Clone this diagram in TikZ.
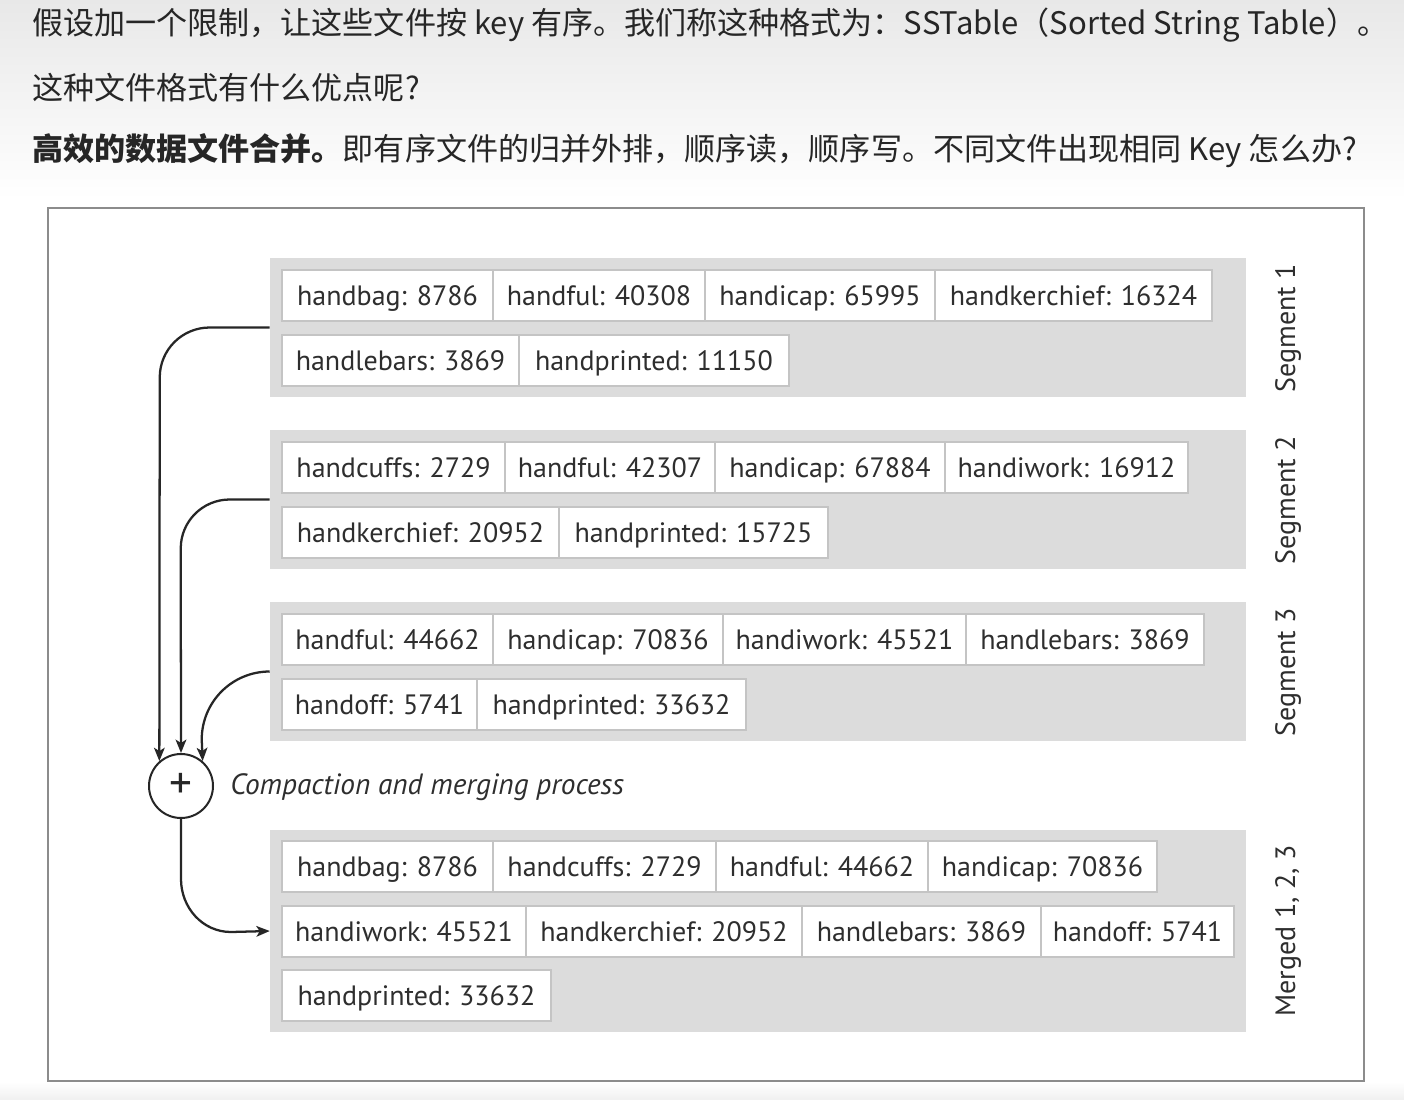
\documentclass[tikz,border=0pt]{standalone}
\usepackage{fontspec}
\setmainfont{PT Sans}
\newfontfamily\cjk{Noto Sans CJK SC}
\usetikzlibrary{arrows.meta}
\definecolor{blockgray}{HTML}{DCDCDC}
\definecolor{boxline}{HTML}{C4C4C4}
\definecolor{framec}{HTML}{8C8C8C}
\definecolor{txt}{HTML}{2E2E2E}
\newcommand\kvbox[5]{\node[kvb, minimum width={(#3-#2)*0.75pt}] (#1) at ({(#2+#3)/2},{#4+25.5}) {#5};}
\begin{document}
\begin{tikzpicture}[x=0.75pt,y=-0.75pt,
 kvb/.style={draw=boxline, line width=1.1pt, fill=white, minimum height=38.25pt, inner sep=0pt, text height=14.4pt, text depth=0pt, font=\fontsize{21}{25}\selectfont, text=txt},
 block/.style={fill=blockgray, draw=none, inner sep=0pt},
 side/.style={rotate=90, inner sep=0pt, font=\fontsize{21}{25}\selectfont, text=txt},
 hdr/.style={anchor=west, inner sep=0pt, font=\cjk\fontsize{23.3}{28}\selectfont, text=black!85},
 conn/.style={line width=1.7pt, draw=black!85},
 arr/.style={conn, -{Stealth[length=10pt,width=8pt,inset=2.5pt]}},
]
\useasboundingbox (0,0) rectangle (1404,1100);
\fill[white] (0,0) rectangle (1404,1100);
\shade[top color=black!9, bottom color=white] (0,0) rectangle (1404,200);
\shade[top color=white, bottom color=black!6] (0,1082) rectangle (1404,1100);

% header text
\node[hdr] (h1) at (32,25) {假设加一个限制，让这些文件按 key 有序。我们称这种格式为：SSTable（Sorted String Table）。};
\node[hdr] (h2) at (32,88) {这种文件格式有什么优点呢?};
\node[hdr] (h3) at (32,151) {\textbf{高效的数据文件合并。}即有序文件的归并外排，顺序读，顺序写。不同文件出现相同 Key 怎么办?};

% frame
\node[draw=framec, line width=1.2pt, fill=white, inner sep=0pt, minimum width={1316*0.75pt}, minimum height={873*0.75pt}] (frame) at (706,644.5) {};

% grey blocks
\node[block, minimum width={976*0.75pt}, minimum height={139*0.75pt}] (seg1) at (758,327.5) {};
\node[block, minimum width={976*0.75pt}, minimum height={139*0.75pt}] (seg2) at (758,499.5) {};
\node[block, minimum width={976*0.75pt}, minimum height={139*0.75pt}] (seg3) at (758,671.5) {};
\node[block, minimum width={976*0.75pt}, minimum height={202*0.75pt}] (merged) at (758,931) {};

% segment 1
\kvbox{a1}{282}{493}{270}{handbag: 8786}
\kvbox{a2}{493}{705}{270}{handful: 40308}
\kvbox{a3}{705}{935}{270}{handicap: 65995}
\kvbox{a4}{935}{1212}{270}{handkerchief: 16324}
\kvbox{a5}{282}{519}{335}{handlebars: 3869}
\kvbox{a6}{519}{789}{335}{handprinted: 11150}
% segment 2
\kvbox{b1}{282}{505}{442}{handcuffs: 2729}
\kvbox{b2}{505}{715}{442}{handful: 42307}
\kvbox{b3}{715}{945}{442}{handicap: 67884}
\kvbox{b4}{945}{1188}{442}{handiwork: 16912}
\kvbox{b5}{282}{559}{507}{handkerchief: 20952}
\kvbox{b6}{559}{828}{507}{handprinted: 15725}
% segment 3
\kvbox{c1}{282}{493}{614}{handful: 44662}
\kvbox{c2}{493}{723}{614}{handicap: 70836}
\kvbox{c3}{723}{966}{614}{handiwork: 45521}
\kvbox{c4}{966}{1204}{614}{handlebars: 3869}
\kvbox{c5}{282}{477}{679}{handoff: 5741}
\kvbox{c6}{477}{746}{679}{handprinted: 33632}
% merged
\kvbox{m1}{282}{493}{841}{handbag: 8786}
\kvbox{m2}{493}{716}{841}{handcuffs: 2729}
\kvbox{m3}{716}{928}{841}{handful: 44662}
\kvbox{m4}{928}{1157}{841}{handicap: 70836}
\kvbox{m5}{282}{526}{906}{handiwork: 45521}
\kvbox{m6}{526}{802}{906}{handkerchief: 20952}
\kvbox{m7}{802}{1041}{906}{handlebars: 3869}
\kvbox{m8}{1041}{1234}{906}{handoff: 5741}
\kvbox{m9}{282}{551}{970}{handprinted: 33632}

% side labels
\node[side] (l1) at (1288,328) {Segment 1};
\node[side] (l2) at (1288,500) {Segment 2};
\node[side] (l3) at (1288,672) {Segment 3};
\node[side] (l4) at (1288,931) {Merged 1, 2, 3};

% merge operator
\node[circle, draw=black!85, line width=1.5pt, minimum size=48pt, inner sep=0pt] (plus) at (181,786) {};
\node[inner sep=0pt, font=\fontsize{34}{34}\selectfont, text=black!85] (plussign) at (plus.center) {+};
\node[anchor=west, inner sep=0pt, font=\itshape\fontsize{22}{26}\selectfont, text=txt] (lbl) at (230,787) {Compaction and merging process};

% connectors
\draw[arr] (seg1.west) -- ++(-60,0) to[out=180,in=90] ++(-50,50) -- (plus.131);
\draw[arr] (seg2.west) -- ++(-40,0) to[out=180,in=90] ++(-49,49) -- (plus.north);
\draw[arr] (seg3.west) to[out=180,in=90] ++(-68,68) -- (plus.49);
\draw[arr] (plus.south) -- ++(0,60) to[out=270,in=180] ++(50,53) -- (merged.west);
\end{tikzpicture}
\end{document}
